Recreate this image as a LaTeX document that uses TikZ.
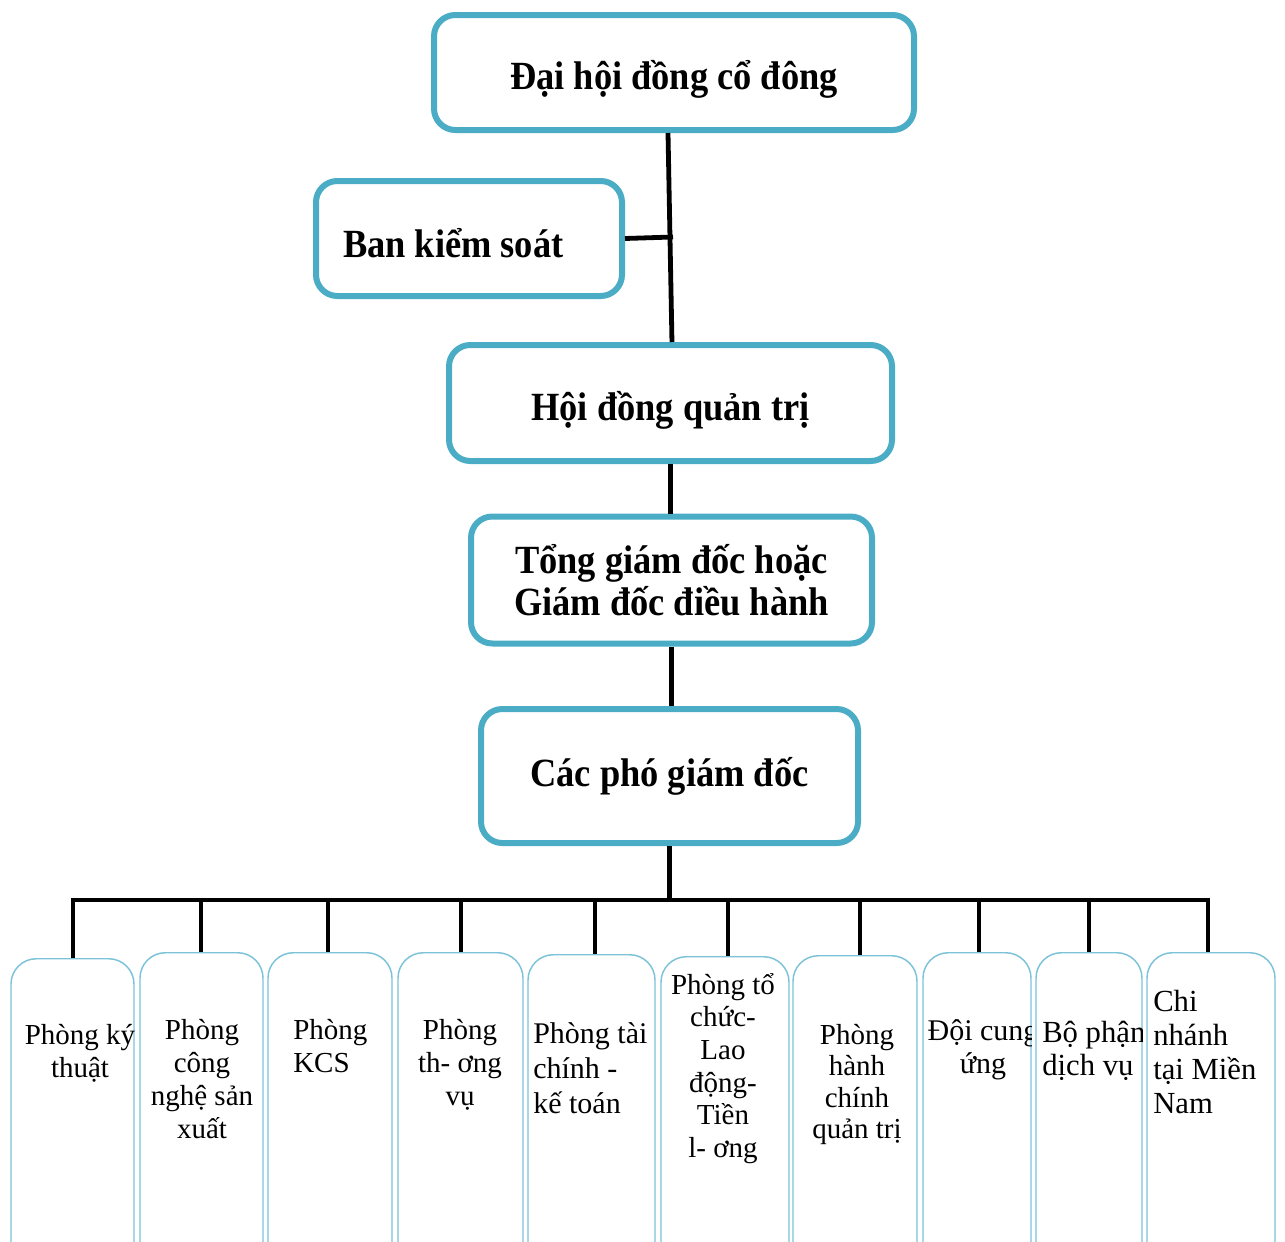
\documentclass[tikz,border=0pt]{standalone}
\usepackage{fontspec}
\setmainfont{Liberation Serif}
\newfontfamily\titlefont[FakeStretch=0.91]{Liberation Serif}
\definecolor{boxblue}{HTML}{4BACC6}
\definecolor{thinblue}{HTML}{7CC2D8}
\begin{document}
\begin{tikzpicture}[x=0.75pt,y=-0.75pt,
 topbox/.style={draw=boxblue, line width=4.5pt, rounded corners=16pt, fill=white, align=center,
   font=\titlefont\bfseries\fontsize{30}{31.5}\selectfont, inner sep=0pt},
 subbox/.style={draw=thinblue, line width=1.1pt, rounded corners=19pt, anchor=north, inner sep=0pt},
 conn/.style={line width=3.6pt, black},
 subtext/.style={inner sep=0pt, font=\fontsize{21.75}{24.75}\selectfont},
]
\useasboundingbox (0,0) rectangle (1285,1242);

% top boxes
\node[topbox, minimum width=360pt, minimum height=86.25pt, text height=33pt, text depth=7pt] (A) at (674,72.5) {Đại hội đồng cổ đông};
\node[topbox, minimum width=229.5pt, minimum height=86.25pt, text width=189pt, align=flush left, text height=34pt, text depth=6.2pt] (B) at (469,238.5) {Ban kiểm soát};
\node[topbox, minimum width=332.25pt, minimum height=87pt, text height=31.5pt, text depth=6pt] (C) at (670.5,403) {Hội đồng quản trị};
\node[topbox, minimum width=300.75pt, minimum height=95.25pt] (D) at (671.5,580) {Tổng giám đốc hoặc\\Giám đốc điều hành};
\node[topbox, minimum width=282.75pt, minimum height=100.5pt] (E) at (669.5,776) {Các phó giám đốc};

% bottom boxes
\node[subbox, minimum width=92.25pt, minimum height=241.5pt] (p1) at (72.5,958) {};
\node[subbox, minimum width=92.25pt, minimum height=246pt] (p2) at (201.5,952) {};
\node[subbox, minimum width=93pt, minimum height=246pt] (p3) at (330,952) {};
\node[subbox, minimum width=93.75pt, minimum height=246pt] (p4) at (460.5,952) {};
\node[subbox, minimum width=95.25pt, minimum height=244.5pt] (p5) at (591.5,954) {};
\node[subbox, minimum width=96pt, minimum height=243pt] (p6) at (725,956) {};
\node[subbox, minimum width=93pt, minimum height=243.75pt] (p7) at (855,955) {};
\node[subbox, minimum width=81pt, minimum height=246pt] (p8) at (977,952) {};
\node[subbox, minimum width=79.5pt, minimum height=246pt] (p9) at (1089,952) {};
\node[subbox, minimum width=96pt, minimum height=246pt] (p10) at (1211,952) {};

% connectors
\coordinate (jB) at (673,237);
\coordinate (bus) at (670,900);
\draw[conn] ([xshift=-4.5pt]A.south) -- ([xshift=1.1pt]C.north);
\draw[conn] (B.east) -- (jB);
\draw[conn] (C.south) -- (C.south |- D.north);
\draw[conn] (D.south) -- (D.south |- E.north);
\draw[conn] (E.south) -- (E.south |- bus);
\coordinate (d1) at (73,900);
\coordinate (d2) at (201,900);
\coordinate (d3) at (328,900);
\coordinate (d4) at (461,900);
\coordinate (d5) at (595,900);
\coordinate (d6) at (728,900);
\coordinate (d7) at (860,900);
\coordinate (d8) at (979,900);
\coordinate (d9) at (1089,900);
\coordinate (d10) at (1208,900);
\draw[conn] (d1 |- p1.north) -- (d1) -- (d10) -- (d10 |- p10.north);
\foreach \i in {2,...,9} {\draw[conn] (d\i) -- (d\i |- p\i.north);}

% bottom texts
\begin{scope}\clip (p1.north west) rectangle (p1.south east);
\node[subtext, anchor=north, align=center] (t1) at (80,1012) {\rule{0pt}{1.1em}Phòng ký\\thuật};
\end{scope}
\begin{scope}\clip (p2.north west) rectangle (p2.south east);
\node[subtext, anchor=north, align=center] (t2) at (202,1007) {\rule{0pt}{1.1em}Phòng\\công\\nghệ sản\\xuất};
\end{scope}
\begin{scope}\clip (p3.north west) rectangle (p3.south east);
\node[subtext, anchor=north west, align=left] (t3) at (293,1007) {\rule{0pt}{1.1em}Phòng\\KCS};
\end{scope}
\begin{scope}\clip (p4.north west) rectangle (p4.south east);
\node[subtext, anchor=north, align=center] (t4) at (460,1007) {\rule{0pt}{1.1em}Phòng\\th- ơng\\vụ};
\end{scope}
\begin{scope}\clip (p5.north west) rectangle (p5.south east);
\node[subtext, anchor=north west, align=left, font=\fontsize{22.5}{26.25}\selectfont] (t5) at (533,1010) {\rule{0pt}{1.1em}Phòng tài\\chính -\\kế toán};
\end{scope}
\begin{scope}\clip (p6.north west) rectangle (p6.south east);
\node[subtext, anchor=north, align=center, font=\fontsize{21.75}{24.5}\selectfont] (t6) at (723,962) {\rule{0pt}{1.1em}Phòng tổ\\chức-\\Lao\\động-\\Tiền\\l- ơng};
\end{scope}
\begin{scope}\clip (p7.north west) rectangle (p7.south east);
\node[subtext, anchor=north, align=center, font=\fontsize{21.75}{23.6}\selectfont] (t7) at (857,1012) {\rule{0pt}{1.1em}Phòng\\hành\\chính\\quản trị};
\end{scope}
\begin{scope}\clip (p8.north west) rectangle (p8.south east);
\node[subtext, anchor=north, align=center, font=\fontsize{22.5}{24.75}\selectfont] (t8) at (983,1007) {\rule{0pt}{1.1em}Đội cung\\ứng};
\end{scope}
\begin{scope}\clip (p9.north west) rectangle (p9.south east);
\node[subtext, anchor=north west, align=left, font=\fontsize{23}{24.75}\selectfont] (t9) at (1042,1008) {\rule{0pt}{1.1em}Bộ phận\\dịch vụ};
\end{scope}
\begin{scope}\clip (p10.north west) rectangle (p10.south east);
\node[subtext, anchor=north west, align=left, font=\fontsize{23}{25.5}\selectfont] (t10) at (1153,977) {\rule{0pt}{1.1em}Chi\\nhánh\\tại Miền\\Nam};
\end{scope}
\end{tikzpicture}
\end{document}
